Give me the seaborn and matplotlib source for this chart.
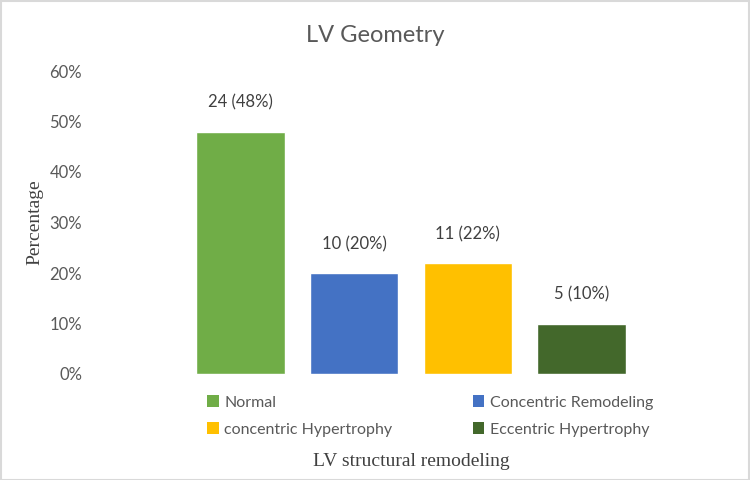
import matplotlib
matplotlib.use("Agg")
import matplotlib.pyplot as plt
import seaborn as sns
import pandas as pd
from matplotlib.patches import Patch, Rectangle
from matplotlib.ticker import PercentFormatter

categories = ["Normal", "Concentric Remodeling", "concentric Hypertrophy", "Eccentric Hypertrophy"]
counts = [24, 10, 11, 5]
percentages = [0.48, 0.20, 0.22, 0.10]
colors = ["#70AD47", "#4472C4", "#FFC000", "#43682B"]
yticks = [0, 0.1, 0.2, 0.3, 0.4, 0.5, 0.6]

sns.set_theme(style="white")
plt.rcParams['font.family'] = ['Lato', 'DejaVu Sans']

df = pd.DataFrame({"category": categories, "pct": percentages})

fig = plt.figure(figsize=(7.5, 4.8), dpi=100)
ax = fig.add_axes([183.5/750, 1-374/480, (638.5-183.5)/750, (374-71)/480])
sns.barplot(data=df, x="category", y="pct", hue="category", palette=colors,
            width=0.78, ax=ax, legend=False, saturation=1)
ax.set_xlim(-0.5, 3.5)
ax.set_ylim(0, 0.6)
ax.set_yticks(yticks)
ax.yaxis.set_major_formatter(PercentFormatter(1.0, decimals=0))
ax.tick_params(axis='y', labelsize=12, labelcolor="#595959", length=0, pad=73)
ax.set_xticks([])
ax.set_xlabel("")
ax.set_ylabel("Percentage", family=["Liberation Serif"], fontsize=14, color="#404040")
ax.yaxis.set_label_coords((43-183.5)/455, 0.5)
for s in ax.spines.values():
    s.set_visible(False)

for i, (c, p) in enumerate(zip(counts, percentages)):
    ax.annotate(f"{c} ({p*100:.0f}%)", xy=(i, p), xytext=(0, 15), textcoords="offset points",
                ha="center", va="bottom", fontsize=12, color="#404040")

fig.text(0.5, 1-35/480, "LV Geometry", ha="center", va="center", fontsize=17, color="#595959")
fig.text(411/750, 1-462/480, "LV structural remodeling", ha="center", va="center",
         family=["Liberation Serif"], fontsize=14, color="#404040")

handles = [Patch(facecolor=col, edgecolor="none", label=cat) for col, cat in zip(colors, categories)]
order = [0, 2, 1, 3]
leg = fig.legend([handles[i] for i in order], [categories[i] for i in order], ncol=2,
                 loc="center left", bbox_to_anchor=(193/750, 1-416/480), frameon=False,
                 fontsize=11.5, handlelength=0.7, handleheight=0.7, handletextpad=0.35,
                 columnspacing=5.05, labelspacing=0.8, labelcolor="#595959")

fig.patches.append(Rectangle((0.001, 0.001), 0.998, 0.997, transform=fig.transFigure,
                             fill=False, edgecolor="#D9D9D9", linewidth=1.5))
fig.savefig("out.png", dpi=100)
